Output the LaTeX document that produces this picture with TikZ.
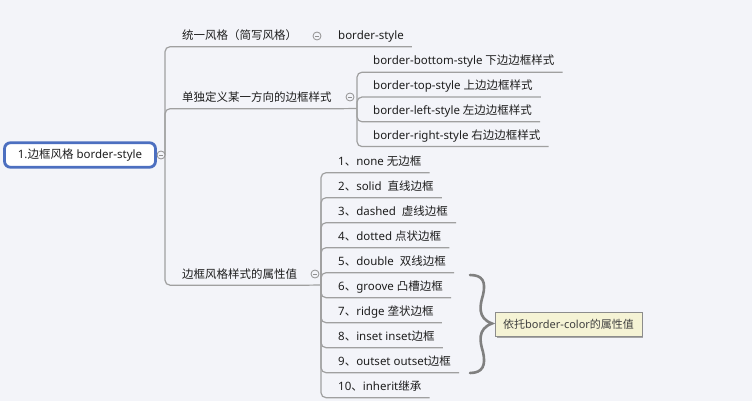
\documentclass[tikz,border=0pt]{standalone}
\usepackage{fontspec}
\setmainfont{Noto Sans}
\newfontfamily\zhfont{Noto Sans CJK SC}
\newcommand\zh[1]{{\zhfont #1}}
\usetikzlibrary{shadows}
\definecolor{bgcolor}{RGB}{243,244,249}
\definecolor{linegray}{RGB}{160,160,160}
\definecolor{rootblue}{RGB}{76,111,192}
\definecolor{textdark}{RGB}{30,30,30}
\definecolor{notefill}{RGB}{245,243,213}
\definecolor{notedraw}{RGB}{140,140,140}
\definecolor{bracegray}{RGB}{128,128,128}

\begin{document}
\begin{tikzpicture}[x=1pt,y=-1pt,
  font=\fontsize{11.5pt}{13pt}\selectfont,
  link/.style={draw=linegray, line width=1.2pt, rounded corners=5pt},
  topic/.style={anchor=west, inner xsep=8pt, inner ysep=5pt, text height=9pt, text depth=2pt, text=textdark},
  root/.style={draw=rootblue, line width=2.8pt, fill=white, rounded corners=6pt, minimum width=151pt, minimum height=24.5pt, text=textdark},
  toggle/.style={circle, draw=linegray!90!black, line width=0.8pt, fill=bgcolor, inner sep=0pt, minimum size=8pt,
    path picture={\draw[linegray!90!black, line width=0.8pt] ([xshift=-2.2pt]path picture bounding box.center) -- ([xshift=2.2pt]path picture bounding box.center);}},
  note/.style={anchor=west, draw=notedraw, fill=notefill, inner xsep=8pt, minimum height=24pt, text=textdark!85,
    font=\fontsize{11pt}{13pt}\selectfont, drop shadow={shadow xshift=1.5pt, shadow yshift=-1.5pt, fill=black!35, opacity=1}},
  brace/.style={draw=bracegray, line width=2.6pt, line cap=round}]
\fill [bgcolor] (0,0) rectangle (752,401);

\node[root] (root) at (80,155) {1.\zh{边框风格} border-style};
\coordinate (j0) at (165,155);

\node[topic] (c1) at (174,36) {\zh{统一风格（简写风格）}};
\node[topic] (s1) at (330,36) {border-style};

\node[topic] (c2) at (174,98) {\zh{单独定义某一方向的边框样式}};
\coordinate (j2) at (357,108.5);
\node[topic] (b1) at (365,61.5) {border-bottom-style \zh{下边边框样式}};
\node[topic] (b2) at (365,86.3) {border-top-style \zh{上边边框样式}};
\node[topic] (b3) at (365,111.1) {border-left-style \zh{左边边框样式}};
\node[topic] (b4) at (365,135.9) {border-right-style \zh{右边边框样式}};

\node[topic] (c3) at (174,274.5) {\zh{边框风格样式的属性值}};
\coordinate (j3) at (321,285);
\node[topic] (r1) at (330,162) {1\zh{、}none \zh{无边框}};
\node[topic] (r2) at (330,187) {2\zh{、}solid\ \ \zh{直线边框}};
\node[topic] (r3) at (330,212) {3\zh{、}dashed\ \ \zh{虚线边框}};
\node[topic] (r4) at (330,237) {4\zh{、}dotted \zh{点状边框}};
\node[topic] (r5) at (330,262) {5\zh{、}double\ \ \zh{双线边框}};
\node[topic] (r6) at (330,287) {6\zh{、}groove \zh{凸槽边框}};
\node[topic] (r7) at (330,312) {7\zh{、}ridge \zh{垄状边框}};
\node[topic] (r8) at (330,337) {8\zh{、}inset inset\zh{边框}};
\node[topic] (r9) at (330,362) {9\zh{、}outset outset\zh{边框}};
\node[topic] (r10) at (330,387) {10\zh{、}inherit\zh{继承}};

\draw[link] (root.east) -- (j0);
\draw[link] (j0) |- (c1.south east) -- (s1.south east);
\draw[link] (j0) |- (c2.south east) -- (j2);
\draw[link] (j0) |- (c3.south east) -- (j3);

\draw[link] (j2) |- (b1.south east);
\draw[link] (j2) |- (b2.south east);
\draw[link] (j2) |- (b3.south east);
\draw[link] (j2) |- (b4.south east);

\draw[link] (j3) |- (r1.south east);
\draw[link] (j3) |- (r2.south east);
\draw[link] (j3) |- (r3.south east);
\draw[link] (j3) |- (r4.south east);
\draw[link] (j3) |- (r5.south east);
\draw[link] (j3) |- (r6.south east);
\draw[link] (j3) |- (r7.south east);
\draw[link] (j3) |- (r8.south east);
\draw[link] (j3) |- (r9.south east);
\draw[link] (j3) |- (r10.south east);

\node[toggle] (t0) at (161,155) {};
\node[toggle] (t1) at (317,36) {};
\node[toggle] (t2) at (350,97) {};
\node[toggle] (t3) at (315,274) {};

\draw[brace] (470,275) .. controls (483,275) and (486,282) .. (483,295)
  .. controls (480,305) and (477,318) .. (492,323.5)
  .. controls (477,329) and (480,342) .. (483,352)
  .. controls (486,365) and (483,373) .. (470,373);
\node[note] (n1) at (495,324) {\zh{依托}border-color\zh{的属性值}};
\end{tikzpicture}
\end{document}
